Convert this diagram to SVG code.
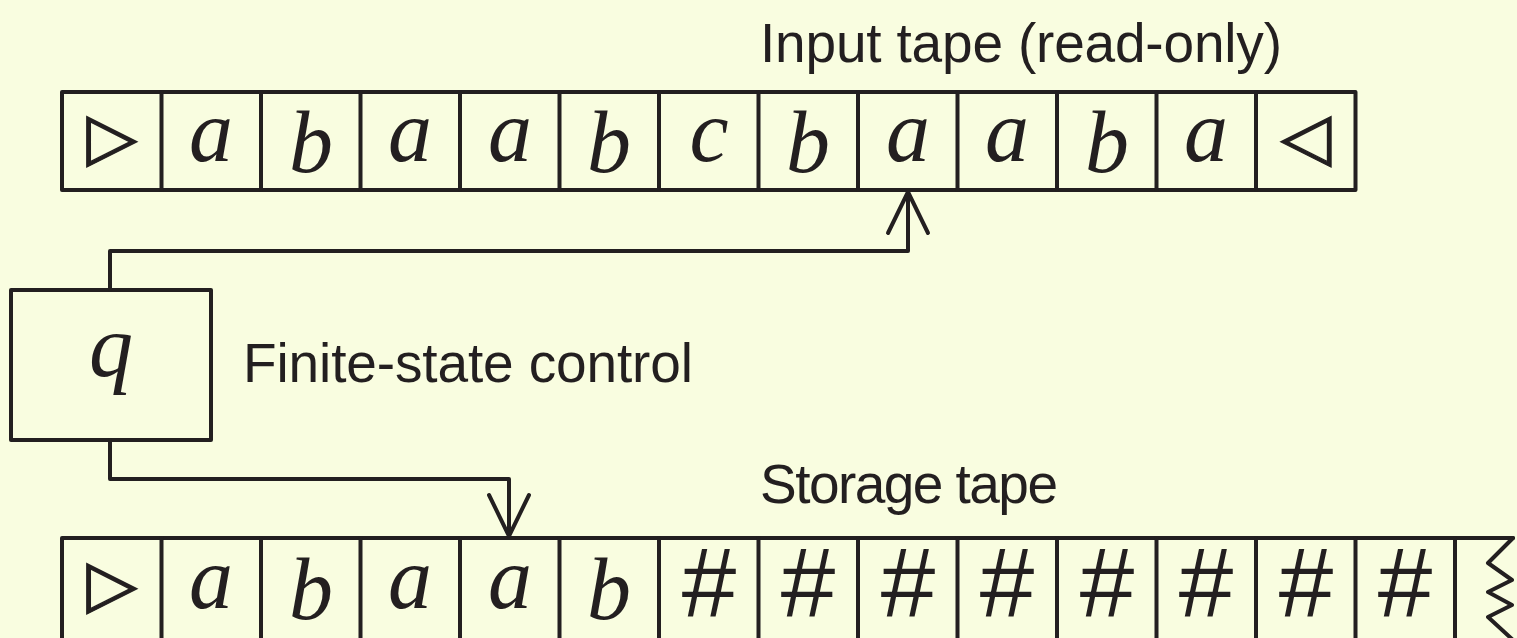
<svg xmlns="http://www.w3.org/2000/svg" width="1517" height="638" viewBox="0 0 1517 638">
  <style>
    .ln { fill: none; stroke: #231f20; stroke-width: 4; stroke-linecap: round; stroke-linejoin: round; }
    .sym { font-family: "Liberation Serif", "DejaVu Serif", serif; font-style: italic; font-size: 88px; fill: #231f20; text-anchor: middle; }
    .tri { font-family: "DejaVu Sans", sans-serif; font-size: 66px; fill: #231f20; stroke: #231f20; stroke-width: 1.2; text-anchor: middle; }
    .hash { font-family: "Liberation Sans", Arial, sans-serif; font-size: 98px; fill: #231f20; text-anchor: middle; }
    .lbl { font-family: "Liberation Sans", Arial, sans-serif; font-size: 55px; fill: #231f20; }
  </style>
  <defs>
    <marker id="head" markerUnits="userSpaceOnUse" markerWidth="100" markerHeight="100" refX="50" refY="50" orient="auto">
      <path d="M 9 30 L 50 50 L 9 70" fill="none" stroke="#231f20" stroke-width="4" stroke-linecap="round" stroke-linejoin="round"/>
    </marker>
  </defs>
  <rect width="1517" height="638" fill="#f9fde0"/>

  <!-- Input tape -->
  <g id="input-tape">
    <path class="ln" d="M 62 92 H 1355.5 V 190 H 62 Z"/>
    <path class="ln" d="M 161.5 92 V 190 M 261 92 V 190 M 360.5 92 V 190 M 460 92 V 190 M 559.5 92 V 190 M 659 92 V 190 M 758.5 92 V 190 M 858 92 V 190 M 957.5 92 V 190 M 1057 92 V 190 M 1156.5 92 V 190 M 1256 92 V 190"/>
    <text class="tri" x="112" y="159">▷</text>
    <text class="sym" x="211" y="161">a</text>
    <text class="sym" x="311" y="172">b</text>
    <text class="sym" x="410" y="161">a</text>
    <text class="sym" x="510" y="161">a</text>
    <text class="sym" x="609" y="172">b</text>
    <text class="sym" x="709" y="161">c</text>
    <text class="sym" x="808" y="172">b</text>
    <text class="sym" x="908" y="161">a</text>
    <text class="sym" x="1007" y="161">a</text>
    <text class="sym" x="1107" y="172">b</text>
    <text class="sym" x="1206" y="161">a</text>
    <text class="tri" x="1306" y="159">◁</text>
  </g>
  <text class="lbl" x="760" y="62" textLength="522" lengthAdjust="spacing">Input tape (read-only)</text>

  <!-- Finite-state control -->
  <g id="control">
    <rect class="ln" x="11" y="290" width="200" height="150"/>
    <text class="sym" x="111" y="376">q</text>
  </g>
  <text class="lbl" x="243" y="382" textLength="450" lengthAdjust="spacing">Finite-state control</text>

  <!-- Storage tape (open at the bottom and right: it runs on past the frame) -->
  <g id="storage-tape">
    <path class="ln" d="M 1513 538 H 62 V 642"/>
    <path class="ln" d="M 161.5 538 V 642 M 261 538 V 642 M 360.5 538 V 642 M 460 538 V 642 M 559.5 538 V 642 M 659 538 V 642 M 758.5 538 V 642 M 858 538 V 642 M 957.5 538 V 642 M 1057 538 V 642 M 1156.5 538 V 642 M 1256 538 V 642 M 1355.5 538 V 642 M 1455 538 V 642"/>
    <path class="ln" d="M 1513 538 L 1488 563 L 1512 580 L 1488 592 L 1512 605 L 1488 617 L 1513 640"/>
    <text class="tri" x="112" y="606">▷</text>
    <text class="sym" x="211" y="608">a</text>
    <text class="sym" x="311" y="619">b</text>
    <text class="sym" x="410" y="608">a</text>
    <text class="sym" x="510" y="608">a</text>
    <text class="sym" x="609" y="619">b</text>
    <text class="hash" x="709" y="617">#</text>
    <text class="hash" x="808" y="617">#</text>
    <text class="hash" x="908" y="617">#</text>
    <text class="hash" x="1007" y="617">#</text>
    <text class="hash" x="1107" y="617">#</text>
    <text class="hash" x="1206" y="617">#</text>
    <text class="hash" x="1306" y="617">#</text>
    <text class="hash" x="1405" y="617">#</text>
  </g>
  <text class="lbl" x="760" y="503" textLength="298" lengthAdjust="spacing">Storage tape</text>

  <!-- Head connectors -->
  <g id="connectors">
    <path class="ln" d="M 110 290 V 251 H 908 V 192" marker-end="url(#head)"/>
    <path class="ln" d="M 110 440 V 479 H 509 V 536" marker-end="url(#head)"/>
  </g>
</svg>
